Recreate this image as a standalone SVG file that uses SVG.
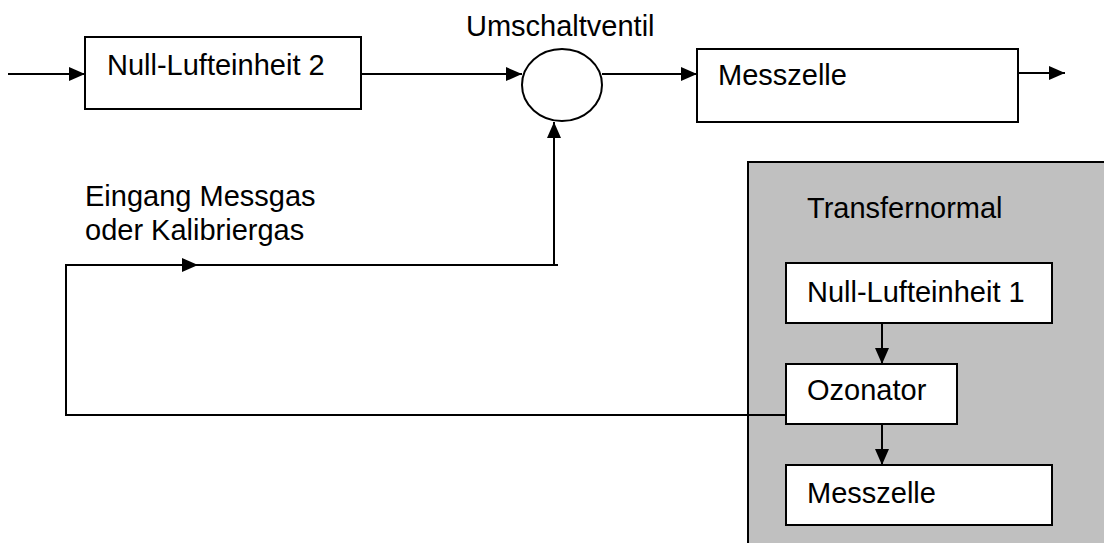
<svg xmlns="http://www.w3.org/2000/svg" width="1104" height="543" viewBox="0 0 1104 543">
<style>
.box{fill:#fff;stroke:#000;stroke-width:2}
.ln{fill:none;stroke:#000;stroke-width:2}
text{font-family:"Liberation Sans",Arial,sans-serif;font-size:29px;fill:#000}
</style>
<defs>
<marker id="ah" markerWidth="16" markerHeight="14" refX="16" refY="7" orient="auto" markerUnits="userSpaceOnUse">
<path d="M0,0 L16,7 L0,14 Z" fill="#000"/>
</marker>
</defs>
<rect width="1104" height="543" fill="#fff"/>
<g id="transfernormal">
<rect x="748" y="162" width="356" height="381" fill="#c0c0c0"/>
<path d="M748,543 V162 H1104" fill="none" stroke="#000" stroke-width="2"/>
<text x="807" y="218">Transfernormal</text>
</g>
<g id="connectors">
<line class="ln" x1="8" y1="74" x2="85" y2="74" marker-end="url(#ah)"/>
<line class="ln" x1="361" y1="74" x2="522" y2="74" marker-end="url(#ah)"/>
<line class="ln" x1="602" y1="74" x2="697" y2="74" marker-end="url(#ah)"/>
<line class="ln" x1="1018" y1="73" x2="1065" y2="73" marker-end="url(#ah)"/>
<line class="ln" x1="554" y1="265" x2="554" y2="122" marker-end="url(#ah)"/>
<line class="ln" x1="558" y1="265" x2="66" y2="265"/>
<line class="ln" x1="66" y1="265" x2="198" y2="265" marker-end="url(#ah)"/>
<path class="ln" d="M66,264 V415 H786"/>
<line class="ln" x1="882" y1="323" x2="882" y2="364" marker-end="url(#ah)"/>
<line class="ln" x1="882" y1="424" x2="882" y2="465" marker-end="url(#ah)"/>
</g>
<g id="null-luft-2">
<rect class="box" x="85" y="37" width="276" height="72"/>
<text x="107" y="75">Null-Lufteinheit 2</text>
</g>
<g id="umschaltventil">
<ellipse class="box" cx="562" cy="85" rx="40" ry="36"/>
<text x="466" y="36">Umschaltventil</text>
</g>
<g id="messzelle-1">
<rect class="box" x="697" y="49" width="321" height="73"/>
<text x="718" y="85">Messzelle</text>
</g>
<g id="eingang-label">
<text x="85" y="206">Eingang Messgas</text>
<text x="85" y="240">oder Kalibriergas</text>
</g>
<g id="null-luft-1">
<rect class="box" x="786" y="263" width="266" height="60"/>
<text x="807" y="302">Null-Lufteinheit 1</text>
</g>
<g id="ozonator">
<rect class="box" x="786" y="364" width="171" height="60"/>
<text x="807" y="400">Ozonator</text>
</g>
<g id="messzelle-2">
<rect class="box" x="786" y="465" width="266" height="60"/>
<text x="807" y="503">Messzelle</text>
</g>
</svg>
